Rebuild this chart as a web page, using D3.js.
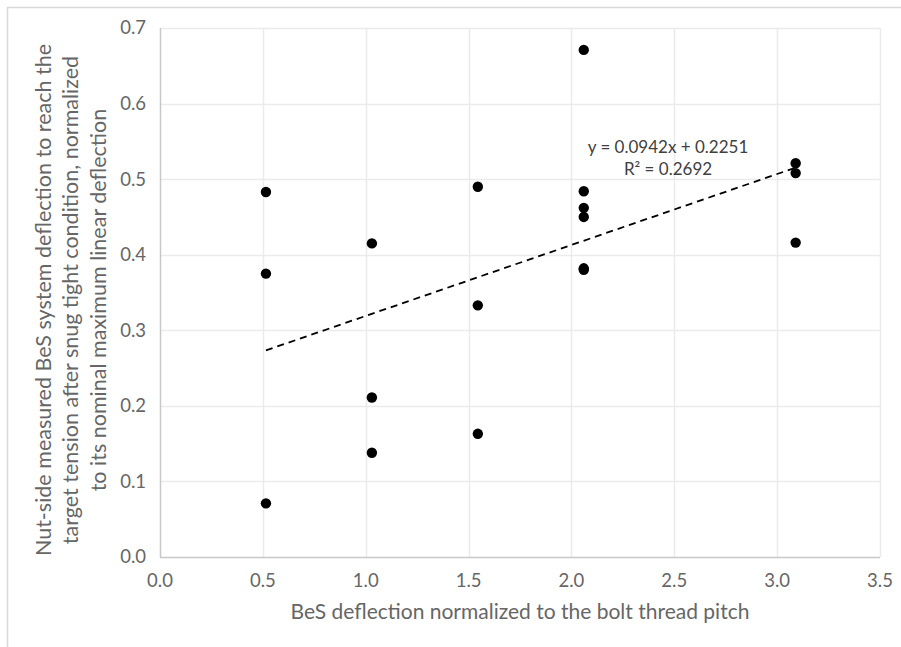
<!DOCTYPE html>
<html>
<head>
<meta charset="utf-8">
<script src="https://cdn.jsdelivr.net/npm/d3@7"></script>
<style>
  body { margin: 0; background: #fff; }
  svg { display: block; font-family: Lato, "Open Sans", sans-serif; }
</style>
</head>
<body>
<div id="chart"></div>
<script>
// data
var deflX = [0.515, 0.515, 0.515,
             1.03, 1.03, 1.03,
             1.545, 1.545, 1.545,
             2.06, 2.06, 2.06, 2.06, 2.06, 2.06,
             3.09, 3.09, 3.09];
var deflY = [0.483, 0.375, 0.071,
             0.415, 0.211, 0.138,
             0.490, 0.333, 0.163,
             0.671, 0.484, 0.462, 0.450, 0.382, 0.380,
             0.521, 0.508, 0.416];
var xTicks = [0, 0.5, 1, 1.5, 2, 2.5, 3, 3.5];
var yTicks = [0, 0.1, 0.2, 0.3, 0.4, 0.5, 0.6, 0.7];
var yTitle = ["Nut-side measured BeS system deflection to reach the",
              "target tension after snug tight condition, normalized",
              "to its nominal maximum linear deflection"];
var xTitle = "BeS deflection normalized to the bolt thread pitch";
var eqnLines = ["y = 0.0942x + 0.2251", "R\u00b2 = 0.2692"];

var width = 901,
    height = 647,
    margin = {left: 160, right: 20, top: 28, bottom: 90};

var svg = d3.select('#chart')
  .append('svg')
    .attr('width', width)
    .attr('height', height);

// chart frame (right and bottom edges fall outside the picture)
svg.append('rect')
  .attr('x', 7.5).attr('y', 7.5)
  .attr('width', 960).attr('height', 700)
  .attr('fill', '#fff')
  .attr('stroke', '#d9d9d9')
  .attr('stroke-width', 1.5);

var x = d3.scaleLinear().domain([0, 3.5]).range([margin.left, 880]);
var y = d3.scaleLinear().domain([0, 0.7]).range([557, margin.top]);

// gridlines
svg.append('g')
  .selectAll('line.vgrid')
  .data(xTicks.slice(1))
  .enter().append('line')
    .attr('x1', function (d) { return Math.round(x(d)) + 0.5; })
    .attr('x2', function (d) { return Math.round(x(d)) + 0.5; })
    .attr('y1', y(0.7)).attr('y2', y(0))
    .attr('stroke', '#ebebeb').attr('stroke-width', 1.5);

svg.append('g')
  .selectAll('line.hgrid')
  .data(yTicks.slice(1))
  .enter().append('line')
    .attr('y1', function (d) { return Math.round(y(d)) + 0.5; })
    .attr('y2', function (d) { return Math.round(y(d)) + 0.5; })
    .attr('x1', x(0)).attr('x2', x(3.5))
    .attr('stroke', '#ebebeb').attr('stroke-width', 1.5);

// axis lines
svg.append('line')
  .attr('x1', x(0)).attr('x2', x(3.5))
  .attr('y1', y(0) + 0.5).attr('y2', y(0) + 0.5)
  .attr('stroke', '#c8c8c8').attr('stroke-width', 1.5);
svg.append('line')
  .attr('x1', x(0) + 0.5).attr('x2', x(0) + 0.5)
  .attr('y1', y(0)).attr('y2', y(0.7))
  .attr('stroke', '#c8c8c8').attr('stroke-width', 1.5);

// tick labels
svg.append('g')
  .selectAll('text')
  .data(yTicks)
  .enter().append('text')
    .attr('x', 146)
    .attr('y', function (d) { return y(d); })
    .attr('dy', '0.35em')
    .attr('text-anchor', 'end')
    .attr('font-size', 18.5)
    .attr('fill', '#666')
    .text(function (d) { return d3.format('.1f')(d); });

svg.append('g')
  .selectAll('text')
  .data(xTicks)
  .enter().append('text')
    .attr('x', function (d) { return x(d); })
    .attr('y', 581)
    .attr('dy', '0.35em')
    .attr('text-anchor', 'middle')
    .attr('font-size', 18.5)
    .attr('fill', '#666')
    .text(function (d) { return d3.format('.1f')(d); });

// axis titles
svg.append('text')
  .attr('x', (x(0) + x(3.5)) / 2)
  .attr('y', 612)
  .attr('dy', '0.35em')
  .attr('text-anchor', 'middle')
  .attr('font-size', 21)
  .attr('fill', '#666')
  .text(xTitle);

svg.append('g')
  .selectAll('text')
  .data(yTitle)
  .enter().append('text')
    .attr('transform', function (d, i) {
      return 'translate(' + (43 + i * 27.5) + ',300) rotate(-90)';
    })
    .attr('dy', '0.35em')
    .attr('text-anchor', 'middle')
    .attr('font-size', 21.5)
    .attr('fill', '#666')
    .text(function (d) { return d; });

// linear trendline from the points
var mx = d3.mean(deflX),
    my = d3.mean(deflY),
    sxy = d3.sum(deflX, function (d, i) { return (d - mx) * (deflY[i] - my); }),
    sxx = d3.sum(deflX, function (d) { return (d - mx) * (d - mx); }),
    slope = sxy / sxx,
    icept = my - slope * mx,
    xExt = d3.extent(deflX);

svg.append('line')
  .attr('x1', x(xExt[0])).attr('y1', y(slope * xExt[0] + icept))
  .attr('x2', x(xExt[1])).attr('y2', y(slope * xExt[1] + icept))
  .attr('stroke', '#000')
  .attr('stroke-width', 1.8)
  .attr('stroke-dasharray', '7,5');

// points
svg.append('g')
  .selectAll('circle')
  .data(deflX)
  .enter().append('circle')
    .attr('cx', function (d) { return x(d); })
    .attr('cy', function (d, i) { return y(deflY[i]); })
    .attr('r', 5.2)
    .attr('fill', '#000');

// trendline label
svg.append('g')
  .selectAll('text')
  .data(eqnLines)
  .enter().append('text')
    .attr('x', 668)
    .attr('y', function (d, i) { return 147 + i * 22; })
    .attr('dy', '0.35em')
    .attr('text-anchor', 'middle')
    .attr('font-size', 17)
    .attr('fill', '#404040')
    .text(function (d) { return d; });
</script>
</body>
</html>
